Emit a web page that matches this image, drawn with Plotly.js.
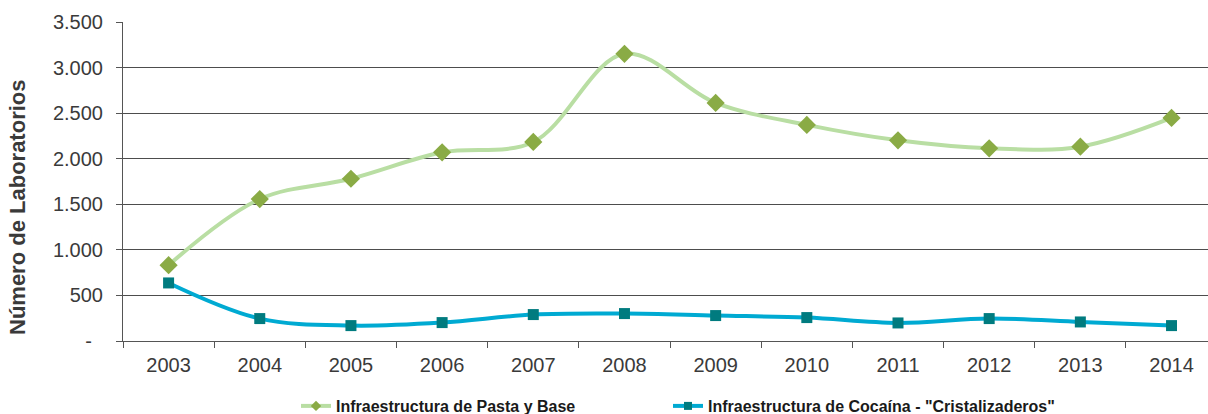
<!DOCTYPE html>
<html>
<head>
<meta charset="utf-8">
<script src="https://cdn.plot.ly/plotly-3.0.1.min.js"></script>
<style>html,body{margin:0;padding:0;background:#fff;}#chart{width:1208px;height:414px;}</style>
</head>
<body>
<div id="chart"></div>
<script>
const years = ["2003","2004","2005","2006","2007","2008","2009","2010","2011","2012","2013","2014"];
const pastaBase = [832, 1557, 1780, 2070, 2184, 3151, 2612, 2371, 2202, 2114, 2132, 2447];
const cristalizaderos = [637, 246, 169, 202, 290, 301, 279, 257, 198, 246, 209, 169];
const seriesNames = ["Infraestructura de Pasta y Base", "Infraestructura de Cocaína - \"Cristalizaderos\""];
const yTickVals = [0, 500, 1000, 1500, 2000, 2500, 3000, 3500];
const yTickText = ["-\u00a0\u00a0", "500", "1.000", "1.500", "2.000", "2.500", "3.000", "3.500"];
const yTitle = "Número de Laboratorios";

const greenLine = "#b9dea3", greenMarker = "#8aab45";
const blueLine = "#00aad2", blueMarker = "#007b7f";
const yRange = [0, 3500];

const traces = [
  {
    x: years, y: pastaBase, name: seriesNames[0], type: "scatter", mode: "lines+markers",
    line: {color: greenLine, width: 4, shape: "spline", smoothing: 1},
    marker: {symbol: "diamond", size: 14, color: greenMarker}, showlegend: false
  },
  {
    x: years, y: cristalizaderos, name: seriesNames[1], type: "scatter", mode: "lines+markers",
    line: {color: blueLine, width: 4, shape: "spline", smoothing: 1},
    marker: {symbol: "square", size: 11, color: blueMarker}, showlegend: false
  },
  {
    x: [null], y: [null], name: seriesNames[0], type: "scatter", mode: "lines+markers",
    yaxis: "y2",
    line: {color: greenLine, width: 4}, marker: {symbol: "diamond", size: 8, color: greenMarker},
    showlegend: true, legend: "legend"
  },
  {
    x: [null], y: [null], name: seriesNames[1], type: "scatter", mode: "lines+markers",
    yaxis: "y2",
    line: {color: blueLine, width: 4}, marker: {symbol: "square", size: 8, color: blueMarker},
    showlegend: true, legend: "legend2"
  }
];

const legendFont = {size: 16, color: "#1a1a1a", family: "Liberation Sans, Arial, sans-serif", weight: "bold"};
const marginL = 103, marginT = 22, marginB = 73;
const plotW = 1208 - marginL;
const plotH = 414 - marginT - marginB;

const layout = {
  width: 1208, height: 414,
  margin: {l: marginL, r: 0, t: marginT, b: marginB, pad: 0},
  paper_bgcolor: "#fff", plot_bgcolor: "#fff",
  separators: ",.",
  font: {family: "Liberation Sans, Arial, sans-serif", color: "#3a3a3a", size: 20},
  xaxis: {
    type: "category", range: [-0.5, 11.4], tickson: "boundaries", domain: [20 / plotW, 1],
    ticks: "outside", ticklen: 6, tickcolor: "#555", showline: true, linecolor: "#555", linewidth: 1,
    showgrid: false, zeroline: false, tickfont: {size: 20, color: "#3a3a3a"}, ticklabelstandoff: 6,
    automargin: false, fixedrange: true
  },
  yaxis: {
    range: yRange, tickvals: yTickVals, showticklabels: false, anchor: "x",
    ticks: "outside", ticklen: 6, tickcolor: "#555", showline: true, linecolor: "#555", linewidth: 1,
    showgrid: true, gridcolor: "#4d4d4d", gridwidth: 1, zeroline: false,
    automargin: false, fixedrange: true
  },
  yaxis2: {
    overlaying: "y", side: "left", anchor: "free", position: 0,
    range: yRange, tickvals: yTickVals, ticktext: yTickText,
    ticks: "", showline: false, showgrid: false, zeroline: false,
    tickfont: {size: 20, color: "#3a3a3a"},
    automargin: false, fixedrange: true
  },
  annotations: [{
    text: yTitle, xref: "paper", yref: "paper",
    x: (18 - marginL) / plotW, y: (414 - marginB - 208) / plotH,
    xanchor: "center", yanchor: "middle", textangle: -90, showarrow: false,
    font: {size: 22, color: "#3a3a3a", family: "Liberation Sans, Arial, sans-serif", weight: "bold"}
  }],
  showlegend: true,
  legend: {
    orientation: "h", xref: "container", x: 296 / 1208, xanchor: "left",
    yref: "container", y: 8 / 414, yanchor: "middle",
    font: legendFont, bgcolor: "rgba(0,0,0,0)", itemwidth: 30
  },
  legend2: {
    orientation: "h", xref: "container", x: 668 / 1208, xanchor: "left",
    yref: "container", y: 8 / 414, yanchor: "middle",
    font: legendFont, bgcolor: "rgba(0,0,0,0)", itemwidth: 30
  }
};

Plotly.newPlot("chart", traces, layout, {displayModeBar: false, staticPlot: true});
</script>
</body>
</html>
